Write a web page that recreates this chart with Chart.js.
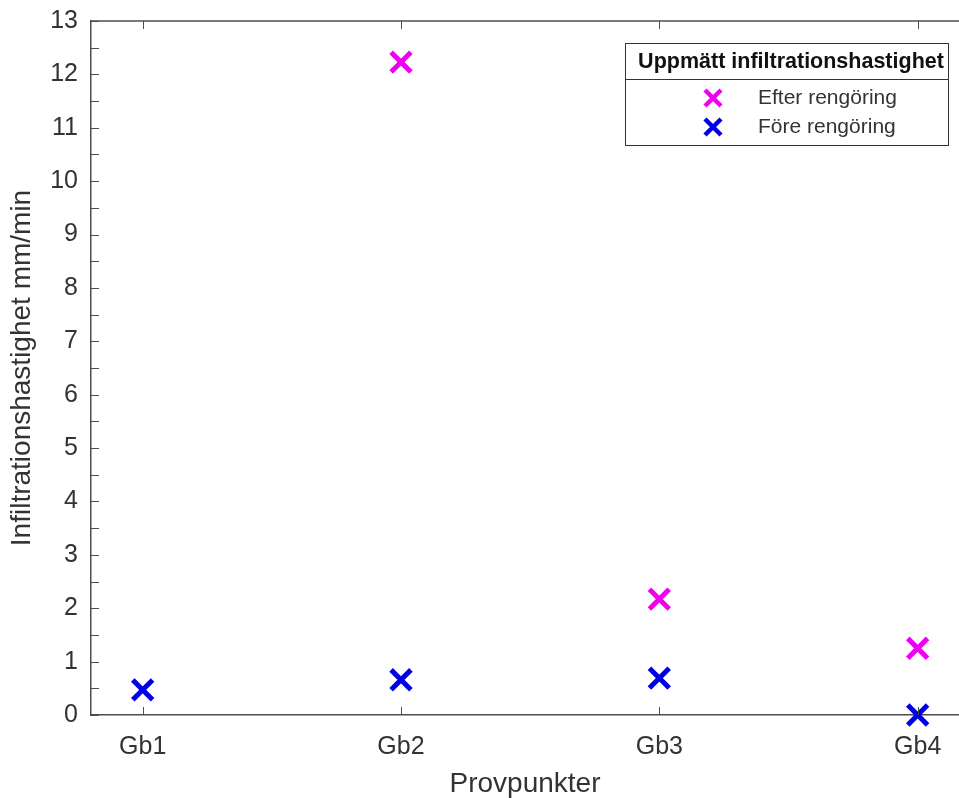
<!DOCTYPE html>
<html>
<head>
<meta charset="utf-8">
<script src="https://cdn.jsdelivr.net/npm/chart.js@4/dist/chart.umd.min.js"></script>
<style>
  html, body { margin: 0; padding: 0; background: #fff; overflow: hidden; }
  #wrap { width: 959px; height: 798px; }
</style>
</head>
<body>
<div id="wrap"><canvas id="ScatterChart"></canvas></div>
<script>
var categories = ['Gb1', 'Gb2', 'Gb3', 'Gb4'];
var positions = [1, 2, 3, 4];
var efter = [null, 12.23, 2.17, 1.25];
var fore = [0.47, 0.66, 0.69, 0.0];
var yTicks = [0, 1, 2, 3, 4, 5, 6, 7, 8, 9, 10, 11, 12, 13];
var minorTicks = [0.5, 1.5, 2.5, 3.5, 4.5, 5.5, 6.5, 7.5, 8.5, 9.5, 10.5, 11.5, 12.5];

var legendTitle = 'Uppmätt infiltrationshastighet';
var axisColor = '#4d4d4d';
var textColor = '#333';
var font = '"Liberation Sans", Arial, sans-serif';

function toPoints(vals) {
    var pts = [];
    for (var i = 0; i < vals.length; i++) {
        if (vals[i] !== null) pts.push({x: positions[i], y: vals[i]});
    }
    return pts;
}

// box top line, inward ticks, and the legend box
var matlabLook = {
    id: 'matlabLook',
    afterDraw: function(chart) {
        var ctx = chart.ctx;
        var a = chart.chartArea;
        var xs = chart.scales.x, ys = chart.scales.y;
        ctx.save();
        ctx.strokeStyle = axisColor;
        ctx.lineWidth = 1.5;
        ctx.beginPath();
        ctx.moveTo(a.left, a.top);
        ctx.lineTo(chart.width, a.top);
        ctx.stroke();

        ctx.lineWidth = 1;
        ctx.beginPath();
        yTicks.concat(minorTicks).forEach(function(v) {
            var py = Math.round(ys.getPixelForValue(v)) + 0.5;
            ctx.moveTo(a.left, py);
            ctx.lineTo(a.left + 8, py);
        });
        positions.forEach(function(v) {
            var px = Math.round(xs.getPixelForValue(v)) + 0.5;
            ctx.moveTo(px, a.bottom);
            ctx.lineTo(px, a.bottom - 8);
            ctx.moveTo(px, a.top);
            ctx.lineTo(px, a.top + 8);
        });
        ctx.stroke();

        // legend
        var L = 625, T = 43, R = 948, B = 145;
        ctx.fillStyle = '#fff';
        ctx.fillRect(L, T, R - L, B - T);
        ctx.strokeStyle = '#333';
        ctx.lineWidth = 1;
        ctx.strokeRect(L + 0.5, T + 0.5, R - L, B - T);
        ctx.beginPath();
        ctx.moveTo(L, 79.5);
        ctx.lineTo(R, 79.5);
        ctx.stroke();

        ctx.fillStyle = '#111';
        ctx.font = 'bold 21.5px ' + font;
        ctx.textAlign = 'center';
        ctx.textBaseline = 'middle';
        ctx.fillText(legendTitle, 791, 62);

        ctx.font = '21px ' + font;
        ctx.textAlign = 'left';
        var rows = [98, 127];
        chart.data.datasets.forEach(function(ds, i) {
            var cy = rows[i], cx = 713, r = 8;
            ctx.strokeStyle = ds.borderColor;
            ctx.lineWidth = 4.5;
            ctx.beginPath();
            ctx.moveTo(cx - r, cy - r); ctx.lineTo(cx + r, cy + r);
            ctx.moveTo(cx - r, cy + r); ctx.lineTo(cx + r, cy - r);
            ctx.stroke();
            ctx.fillStyle = textColor;
            ctx.fillText(ds.label, 758, cy);
        });
        ctx.restore();
    }
};

var data = {
    datasets: [{
        label: 'Efter rengöring',
        data: toPoints(efter),
        borderColor: 'rgb(240, 0, 240)',
        backgroundColor: 'rgb(240, 0, 240)',
        pointStyle: 'crossRot',
        pointRadius: 14,
        pointBorderWidth: 5,
        clip: false
    }, {
        label: 'Före rengöring',
        data: toPoints(fore),
        borderColor: 'rgb(0, 0, 230)',
        backgroundColor: 'rgb(0, 0, 230)',
        pointStyle: 'crossRot',
        pointRadius: 14,
        pointBorderWidth: 5,
        clip: false
    }]
};

var config = {
    type: 'scatter',
    data: data,
    plugins: [matlabLook],
    options: {
        responsive: true,
        maintainAspectRatio: false,
        animation: false,
        layout: { autoPadding: false, padding: { top: 21, right: 0, left: 0, bottom: 0 } },
        plugins: { legend: { display: false }, tooltip: { enabled: false } },
        scales: {
            x: {
                type: 'linear',
                min: 0.8,
                max: 4.16,
                afterBuildTicks: function(s) {
                    s.ticks = positions.map(function(v) { return {value: v}; });
                },
                afterFit: function(s) {
                    s.height = 83;
                    s.paddingLeft = 0;
                    s.paddingRight = 0;
                },
                ticks: {
                    callback: function(v) { return categories[positions.indexOf(v)]; },
                    color: textColor,
                    font: { family: font, size: 25 },
                    padding: 17,
                    maxRotation: 0
                },
                grid: { display: false, drawTicks: false },
                border: { display: true, color: axisColor, width: 1.5 },
                title: {
                    display: true,
                    text: 'Provpunkter',
                    color: textColor,
                    font: { family: font, size: 28 },
                    padding: { top: 0, bottom: -3 }
                }
            },
            y: {
                min: 0,
                max: 13,
                afterBuildTicks: function(s) {
                    s.ticks = yTicks.map(function(v) { return {value: v}; });
                },
                afterFit: function(s) {
                    s.width = 91;
                    s.paddingTop = 0;
                    s.paddingBottom = 0;
                },
                ticks: {
                    color: textColor,
                    font: { family: font, size: 25 },
                    padding: 13
                },
                grid: { display: false, drawTicks: false },
                border: { display: true, color: axisColor, width: 1.5 },
                title: {
                    display: true,
                    text: 'Infiltrationshastighet mm/min',
                    color: textColor,
                    font: { family: font, size: 28 },
                    padding: { top: 5, bottom: 0 }
                }
            }
        }
    }
};

var scatterChart = new Chart(
    document.getElementById('ScatterChart'),
    config
);
</script>
</body>
</html>
